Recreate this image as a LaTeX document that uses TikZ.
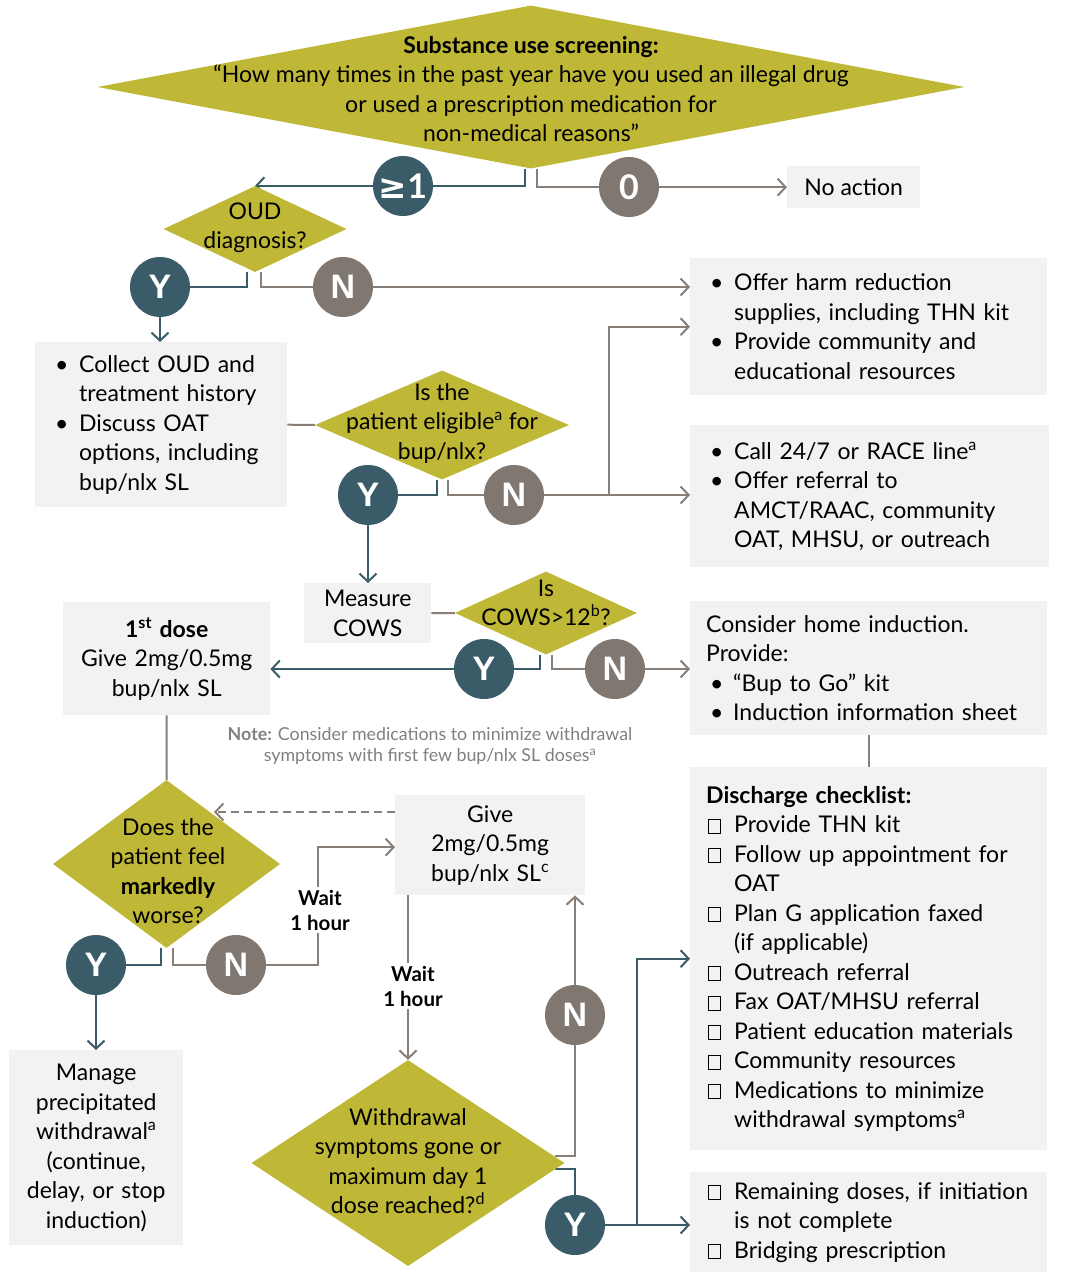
\documentclass[tikz,border=0pt]{standalone}
\usepackage{fontspec}
\setmainfont{Lato}
\newfontfamily\ynfont{Liberation Sans}
\newfontfamily\symfont{DejaVu Sans}
\usetikzlibrary{shapes.geometric,arrows.meta,calc,backgrounds}
\pgfdeclarelayer{lines}
\pgfsetlayers{background,lines,main}
\definecolor{olivec}{RGB}{191,183,54}
\definecolor{tealc}{RGB}{58,91,104}
\definecolor{grayc}{RGB}{128,120,112}
\definecolor{boxc}{RGB}{242,242,242}
\definecolor{linegray}{RGB}{135,127,120}
\definecolor{notegray}{RGB}{128,128,128}
\newcommand{\bul}{\makebox[24pt][l]{•}}
\newcommand{\ind}{\hspace*{24pt}}
\newcommand{\chk}{\hspace*{2pt}\makebox[26pt][l]{\setlength{\fboxrule}{1pt}\setlength{\fboxsep}{0pt}\framebox[13pt]{\rule{0pt}{13pt}}}}
\newcommand{\cind}{\hspace*{28pt}}
\tikzset{
  txt/.style={font=\fontsize{23}{29.5}\selectfont},
  box/.style={txt, rectangle, fill=boxc, inner ysep=0pt, anchor=north west},
  dia/.style={diamond, fill=olivec, inner sep=0pt},
  dtext/.style={txt, align=center, inner sep=0pt},
  circ/.style={circle, minimum size=60pt, inner sep=0pt, text=white},
  tcirc/.style={circ, fill=tealc, font=\ynfont\bfseries\fontsize{34}{34}\selectfont},
  gcirc/.style={circ, fill=grayc, font=\ynfont\bfseries\fontsize{34}{34}\selectfont},
  tl/.style={draw=tealc, line width=2pt},
  gl/.style={draw=linegray, line width=2pt},
  arr/.style={-{Straight Barb[length=8pt,width=17pt]}},
  wait/.style={fill=white, align=center, inner xsep=2pt, inner ysep=3pt, font=\bfseries\fontsize{20.5}{25}\selectfont}
}
\begin{document}
\begin{tikzpicture}[x=1pt,y=-1pt]
\useasboundingbox (0,0) rectangle (1089,1272);
\begin{pgfonlayer}{background}
\fill[white] (0,0) rectangle (1089,1272);
\end{pgfonlayer}

% diamonds
\node[dia, minimum width=867pt, minimum height=163pt] (scr) at (531,87) {};
\node[dtext] (scrT) at (531,89) {\textbf{Substance use screening:}\\“How many times in the past year have you used an illegal drug\\or used a prescription medication for\\non-medical reasons”};
\node[dia, minimum width=183pt, minimum height=86pt] (oud) at (255,229) {};
\node[dtext] (oudT) at (255,228) {OUD\\diagnosis?};
\node[dia, minimum width=254pt, minimum height=109pt] (elig) at (442,425) {};
\node[dtext] (eligT) at (442,423) {Is the\\patient eligible\textsuperscript{a} for\\bup/nlx?};
\node[dia, minimum width=182pt, minimum height=83pt] (cows) at (546,613) {};
\node[dtext] (cowsT) at (546,603) {Is\\COWS>12\textsuperscript{b}?};
\node[dia, minimum width=227pt, minimum height=168pt] (mark) at (166.5,864) {};
\node[dtext] (markT) at (168,871) {Does the\\patient feel\\\textbf{markedly}\\worse?};
\node[dia, minimum width=313pt, minimum height=206pt] (wd) at (408,1163) {};
\node[dtext] (wdT) at (408,1161) {Withdrawal\\symptoms gone or\\maximum day 1\\dose reached?\textsuperscript{d}};

% boxes
\node[box, inner xsep=0pt, minimum width=133pt, minimum height=42pt] (noact) at (787,166) {No action};
\node[box, inner xsep=20pt, text width=317pt, minimum height=137pt, align=left] (harm) at (690,258)
  {\bul Offer harm reduction\\\ind supplies, including THN kit\\\bul Provide community and\\\ind educational resources};
\node[box, inner xsep=20pt, text width=212pt, minimum height=165pt, align=left] (collect) at (35,342)
  {\bul Collect OUD and\\\ind treatment history\\\bul Discuss OAT\\\ind options, including\\\ind bup/nlx SL};
\node[box, inner xsep=20pt, text width=319pt, minimum height=142pt, align=left] (race) at (690,425)
  {\bul Call 24/7 or RACE line\textsuperscript{a}\\\bul Offer referral to\\\ind AMCT/RAAC, community\\\ind OAT, MHSU, or outreach};
\node[box, inner xsep=0pt, text width=127pt, minimum height=60pt, align=center] (measure) at (304,583) {Measure\\COWS};
\node[box, inner xsep=0pt, text width=207pt, minimum height=113pt, align=center] (first) at (63,602)
  {\textbf{1\textsuperscript{st} dose}\\Give 2mg/0.5mg\\bup/nlx SL};
\node[box, inner xsep=16pt, text width=325pt, minimum height=134pt, align=left] (home) at (690,601)
  {Consider home induction.\\Provide:\\\hspace*{4pt}\makebox[23pt][l]{•}“Bup to Go” kit\\\hspace*{4pt}\makebox[23pt][l]{•}Induction information sheet};
\node[align=center, inner sep=0pt, text=notegray, font=\fontsize{17.8}{21}\selectfont] (note) at (430,746)
  {\textbf{Note:} Consider medications to minimize withdrawal\\symptoms with first few bup/nlx SL doses\textsuperscript{a}};
\node[box, inner xsep=0pt, text width=190pt, minimum height=100pt, align=center] (give) at (395,795)
  {Give\\2mg/0.5mg\\bup/nlx SL\textsuperscript{c}};
\node[box, inner xsep=0pt, text width=174pt, minimum height=195pt, align=center] (manage) at (9,1050)
  {Manage\\precipitated\\withdrawal\textsuperscript{a}\\(continue,\\delay, or stop\\induction)};
\node[box, inner xsep=16pt, text width=325pt, minimum height=383pt, align=left] (disch) at (690,767)
  {\textbf{Discharge checklist:}\\\chk Provide THN kit\\\chk Follow up appointment for\\\cind OAT\\\chk Plan G application faxed\\\cind (if applicable)\\\chk Outreach referral\\\chk Fax OAT/MHSU referral\\\chk Patient education materials\\\chk Community resources\\\chk Medications to minimize\\\cind withdrawal symptoms\textsuperscript{a}};
\node[box, inner xsep=16pt, text width=325pt, minimum height=100pt, align=left] (last) at (690,1172)
  {\chk Remaining doses, if initiation\\\cind is not complete\\\chk Bridging prescription};

% circles
\node[tcirc, font=\bfseries\fontsize{34}{34}\selectfont] (ge) at (403,186) {{\symfont ≥}1};
\node[gcirc, font=\bfseries\fontsize{34}{34}\selectfont] (zero) at (629,187) {0};
\node[tcirc] (y1) at (160,287) {Y};
\node[gcirc] (n1) at (343,287) {N};
\node[tcirc] (y2) at (368,495) {Y};
\node[gcirc] (n2) at (514,495) {N};
\node[tcirc] (y3) at (484,669) {Y};
\node[gcirc] (n3) at (615,669) {N};
\node[tcirc] (y4) at (96,965) {Y};
\node[gcirc] (n4) at (236,965) {N};
\node[gcirc] (n5) at (575,1015) {N};
\node[tcirc] (y5) at (575,1225) {Y};

% wait labels
\node[wait] (wait1) at (320,910) {Wait\\1 hour};
\node[wait] (wait2) at (413,986) {Wait\\1 hour};

% helper coordinates
\coordinate (br1) at (609,495);
\coordinate (dashend) at (214,812);
\coordinate (c1) at (318,965);
\coordinate (wdn) at (555,1156);
\coordinate (wdy) at (555,1169);
\coordinate (br2) at (637,1225);

\begin{pgfonlayer}{lines}
\draw[tl,arr] ($(scr.south)+(-6,0)$) |- (oud.north);
\draw[gl,arr] ($(scr.south)+(6,0)$) |- (noact.west);
\draw[tl] ($(oud.south)+(-8,0)$) |- (y1);
\draw[gl,arr] ($(oud.south)+(6,0)$) |- (harm.west |- n1);
\draw[tl,arr] (y1) -- (y1 |- collect.north);
\draw[gl] (collect.east) -- (elig.west);
\draw[tl] ($(elig.south)+(-5,0)$) |- (y2);
\draw[gl,arr] ($(elig.south)+(6,0)$) |- (race.west |- n2);
\draw[gl,arr] (br1) |- (harm.west);
\draw[tl,arr] (y2) -- (y2 |- measure.north);
\draw[gl] (measure.east) -- (cows.west);
\draw[tl,arr] ($(cows.south)+(-6,0)$) |- (first.east |- y3);
\draw[gl,arr] ($(cows.south)+(6,0)$) |- (home.west |- n3);
\draw[gl] (home.south) -- (home.south |- disch.north);
\draw[gl] (first.south) -- (mark.north);
\draw[gl,dashed,dash pattern=on 8pt off 5pt,arr] (give.west |- dashend) -- (dashend);
\draw[tl] ($(mark.south)+(-6,0)$) |- (y4);
\draw[gl,arr] ($(mark.south)+(6,0)$) |- (c1) |- ($(give.west)+(0,2)$);
\draw[tl,arr] (y4) -- (y4 |- manage.north);
\draw[gl,arr] ($(give.south west)+(13,0)$) -- (wd.north);
\draw[gl,arr] (wdn) -| (n5 |- give.south);
\draw[tl] (wdy) -| (y5);
\draw[tl,arr] (y5) -- (last.west |- y5);
\draw[tl,arr] (br2) |- (disch.west);
\end{pgfonlayer}
\end{tikzpicture}
\end{document}
